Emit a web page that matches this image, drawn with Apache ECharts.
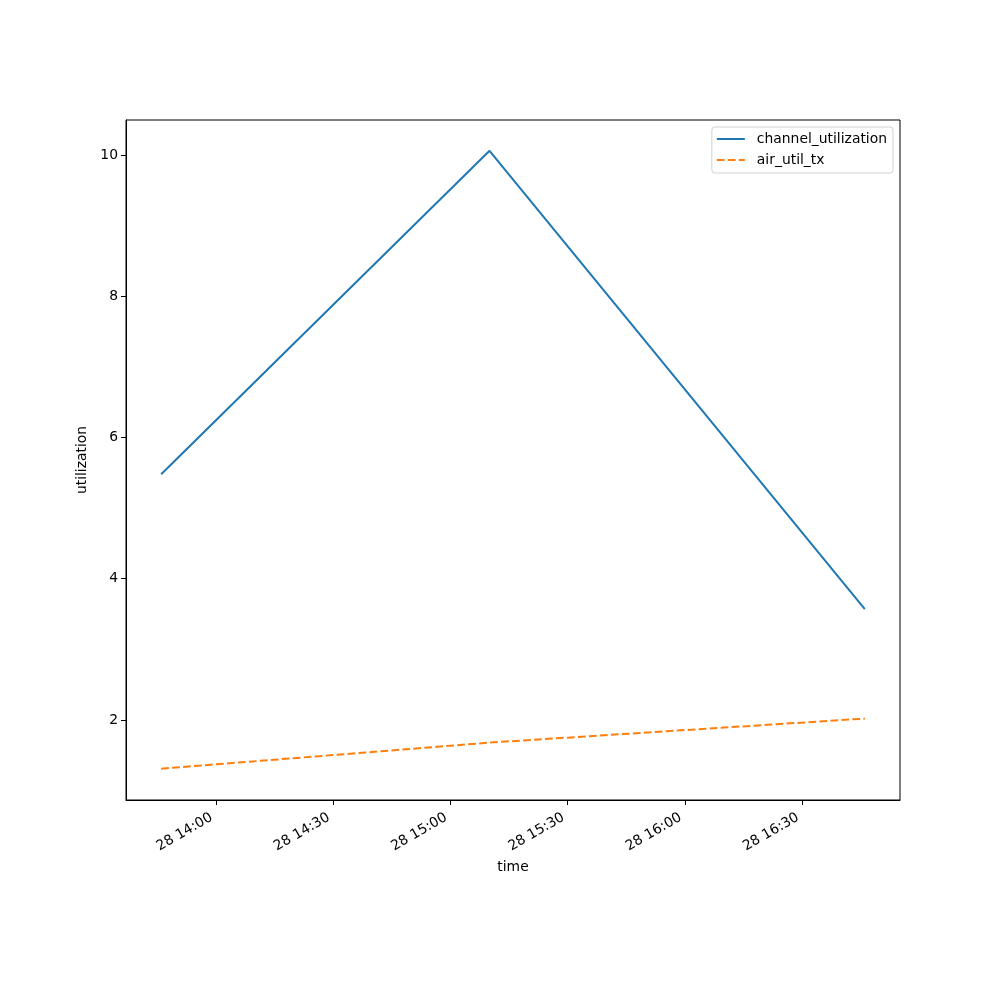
<!DOCTYPE html>
<html>
<head>
<meta charset="utf-8">
<script src="https://cdn.jsdelivr.net/npm/echarts@6/dist/echarts.min.js"></script>
<style>html,body{margin:0;padding:0;background:#fff}#c{width:1000px;height:1000px}</style>
</head>
<body>
<div id="c"></div>
<script>
const times = ['2024-01-28T13:46:00', '2024-01-28T15:10:00', '2024-01-28T16:46:00'];
const channelUtilization = [5.48, 10.06, 3.57];
const airUtilTx = [1.31, 1.68, 2.02];
const yTicks = [2, 4, 6, 8, 10];
const xTicks = ['2024-01-28T14:00:00', '2024-01-28T14:30:00', '2024-01-28T15:00:00', '2024-01-28T15:30:00', '2024-01-28T16:00:00', '2024-01-28T16:30:00'];

const ts = s => new Date(s).getTime();
const xTickVals = xTicks.map(ts);
const pad = n => String(n).padStart(2, '0');
const fmt = v => { const d = new Date(v); return d.getDate() + ' ' + pad(d.getHours()) + ':' + pad(d.getMinutes()); };

const t0 = ts(times[0]), t1 = ts(times[times.length - 1]);
const span = t1 - t0;
const font = 'DejaVu Sans';

const chart = echarts.init(document.getElementById('c'));
chart.setOption({
  animation: false,
  backgroundColor: '#fff',
  textStyle: { fontFamily: font },
  grid: { left: 126, right: 100, top: 120, bottom: 200, show: true, borderColor: '#000', borderWidth: 1, backgroundColor: 'transparent' },
  legend: {
    right: 107, top: 127, orient: 'vertical', itemWidth: 28, itemHeight: 1, itemGap: 7,
    backgroundColor: '#fff', borderColor: '#d0d0d0', borderWidth: 1, borderRadius: 3,
    padding: [5, 6, 6, 4],
    itemStyle: { opacity: 0 },
    textStyle: { fontFamily: font, fontSize: 13.9, color: '#000', padding: [0, 0, 0, 7] },
    data: ['channel_utilization', 'air_util_tx']
  },
  xAxis: {
    type: 'value', min: t0 - span * 0.05, max: t1 + span * 0.05,
    name: 'time', nameLocation: 'middle', nameGap: 55,
    nameTextStyle: { fontFamily: font, fontSize: 13.9, color: '#000' },
    axisLine: { show: true, onZero: false, lineStyle: { color: '#000', width: 1 } },
    axisTick: { show: true, length: 5, inside: false, customValues: xTickVals, lineStyle: { color: '#000' } },
    axisLabel: { customValues: xTickVals, formatter: fmt, rotate: 30, margin: 14, padding: [0, 5, 0, 0], fontFamily: font, fontSize: 13.9, color: '#000', hideOverlap: false },
    splitLine: { show: false }
  },
  yAxis: {
    type: 'value', min: 0.867, max: 10.496,
    name: 'utilization', nameLocation: 'middle', nameGap: 31, nameRotate: 90,
    nameTextStyle: { fontFamily: font, fontSize: 13.9, color: '#000' },
    axisLine: { show: true, onZero: false, lineStyle: { color: '#000', width: 1 } },
    axisTick: { show: true, length: 5, customValues: yTicks, lineStyle: { color: '#000' } },
    axisLabel: { customValues: yTicks, margin: 8, fontFamily: font, fontSize: 13.9, color: '#000' },
    splitLine: { show: false }
  },
  series: [
    {
      name: 'channel_utilization', type: 'line', showSymbol: false, symbol: 'none',
      data: times.map((t, i) => [ts(t), channelUtilization[i]]),
      lineStyle: { color: '#1f77b4', width: 2 }, itemStyle: { color: '#1f77b4' }
    },
    {
      name: 'air_util_tx', type: 'line', showSymbol: false, symbol: 'none',
      data: times.map((t, i) => [ts(t), airUtilTx[i]]),
      lineStyle: { color: '#ff7f0e', width: 2, type: [7.7, 3.3] }, itemStyle: { color: '#ff7f0e' }
    }
  ]
});
</script>
</body>
</html>
